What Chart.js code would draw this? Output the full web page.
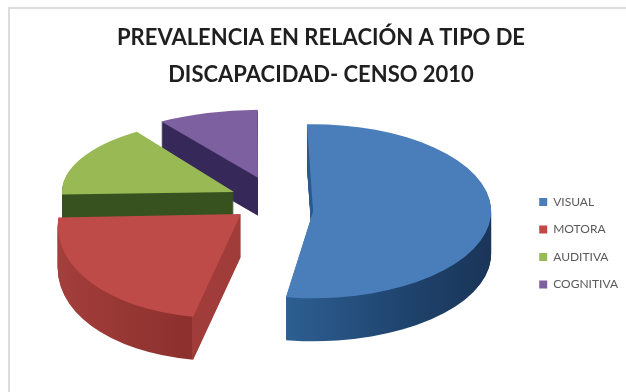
<!DOCTYPE html>
<html>
<head>
<meta charset="utf-8">
<style>html,body{margin:0;padding:0;background:#fff}canvas{display:block}</style>
<script src="https://cdn.jsdelivr.net/npm/chart.js@4"></script>
</head>
<body>
<canvas id="c" width="626" height="392"></canvas>
<script>
// Prevalence by disability type, 2010 census (shares in percent)
const categories = ['VISUAL', 'MOTORA', 'AUDITIVA', 'COGNITIVA'];
const prevalence = [53, 22, 16, 9];
const titleLines = ['PREVALENCIA EN RELACIÓN A TIPO DE', 'DISCAPACIDAD- CENSO 2010'];

const topColors = ['#4a7ebb', '#be4b48', '#98b954', '#7d60a0'];

// Fake-3D view of the pie: shared centre, then per-slice pull-out and foreshortening.
const view = { cx: 270, cy: 201, rx: 180, ry: 90 };
const explode = [0.24, 0.217, 0.224, 0.214];
const drop = [9, 0, 0, -5];
const radiusX = [178, 182, 172, 180];
const radiusY = [87, 104, 73, 68];
const lean = [0, -20, 0, -6];
const depth = [43, 43, 38, 38];
const paintOrder = [3, 2, 0, 1];

// Wall shading across the slice width, as [position, colour] stops.
const wallStops = [
  [[0, '#2d5f92'], [0.42, '#2d5f92'], [0.75, '#1f446e'], [1, '#1a3558']],
  [[0, '#a43f3c'], [0.42, '#8c302d'], [0.421, '#a03c39'], [1, '#a03c39']],
  [[0, '#37511f'], [1, '#37511f']],
  [[0, '#37285a'], [1, '#37285a']]
];

const pie3d = {
  id: 'pie3d',
  beforeDraw(chart) {
    const { ctx } = chart;
    ctx.save();
    ctx.fillStyle = '#fff';
    ctx.fillRect(0, 0, chart.width, chart.height);
    ctx.strokeStyle = '#dcdcdc';
    ctx.lineWidth = 2;
    ctx.strokeRect(9, 8, 640, 400);
    ctx.restore();
  },
  beforeDatasetsDraw(chart) {
    const { ctx } = chart;
    const arcs = chart.getDatasetMeta(0).data;
    for (const i of paintOrder) {
      const arc = arcs[i];
      const R = arc.outerRadius;
      const mid = (arc.startAngle + arc.endAngle) / 2;
      const ox = view.cx + Math.cos(mid) * explode[i] * view.rx;
      const oy = view.cy + Math.sin(mid) * explode[i] * view.ry + drop[i];

      const place = (dy) => {
        ctx.translate(ox, oy + dy);
        ctx.transform(radiusX[i] / R, 0, lean[i] / R, radiusY[i] / R, 0, 0);
        ctx.translate(-arc.x, -arc.y);
      };

      // Side walls: the slice repeated downwards, shaded left to right
      const grad = ctx.createLinearGradient(arc.x - R, 0, arc.x + R, 0);
      wallStops[i].forEach(([p, col]) => grad.addColorStop(p, col));
      const topOptions = arc.options;
      arc.options = Object.assign(Object.create(topOptions), { backgroundColor: grad });
      for (let d = depth[i]; d > 0; d--) {
        ctx.save();
        place(d);
        arc.draw(ctx);
        ctx.restore();
      }
      arc.options = topOptions;

      // Top face
      ctx.save();
      place(0);
      arc.draw(ctx);
      ctx.restore();
    }
    return false;
  }
};

new Chart(document.getElementById('c'), {
  type: 'pie',
  plugins: [pie3d],
  data: {
    labels: categories,
    datasets: [{
      data: prevalence,
      backgroundColor: topColors,
      borderWidth: 0
    }]
  },
  options: {
    responsive: false,
    animation: false,
    rotation: -2,
    layout: { padding: { left: 14, right: -2, top: 20, bottom: 86 } },
    plugins: {
      tooltip: { enabled: false },
      title: {
        display: true,
        text: titleLines,
        color: '#1f1f1f',
        font: { family: 'Lato', size: 22, weight: 'bold', lineHeight: 1.65 },
        padding: { top: 0, bottom: 6 }
      },
      legend: {
        position: 'right',
        align: 'end',
        labels: {
          boxWidth: 8,
          boxHeight: 8,
          padding: 15.5,
          color: '#595959',
          font: { family: 'Lato', size: 12 }
        }
      }
    }
  }
});
</script>
</body>
</html>
